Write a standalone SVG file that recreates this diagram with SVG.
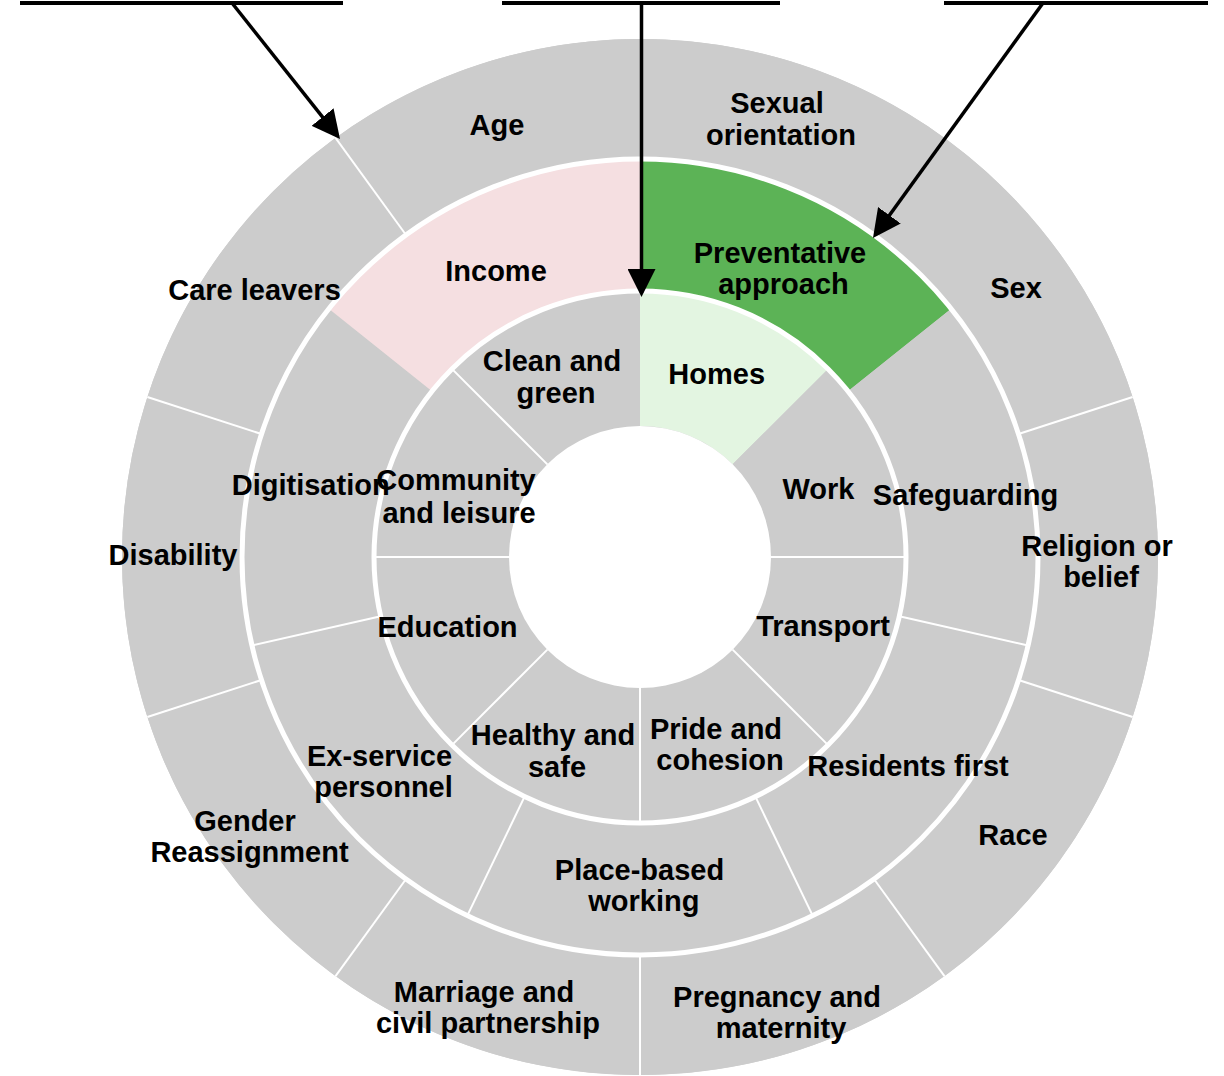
<svg xmlns="http://www.w3.org/2000/svg" width="1224" height="1076" viewBox="0 0 1224 1076">
  <style>
    .gray { fill: #cccccc; }
    .pink { fill: #f5dfe1; }
    .green { fill: #5cb356; }
    .lgreen { fill: #e3f5e1; }
    .div { stroke: #ffffff; stroke-width: 2; fill: none; }
    .gap { stroke: #ffffff; stroke-width: 5; fill: none; }
    .bar { stroke: #000000; stroke-width: 4; fill: none; }
    .arrow { stroke: #000000; stroke-width: 3.5; fill: none; marker-end: url(#head); }
    .lbl { font-family: "Liberation Sans", Arial, Helvetica, sans-serif; font-weight: bold; font-size: 29px; fill: #000000; text-anchor: middle; }
  </style>
  <defs>
    <marker id="head" viewBox="0 0 28 28" refX="24" refY="14" markerWidth="28" markerHeight="28" markerUnits="userSpaceOnUse" orient="auto">
      <path d="M0,0 L28,14 L0,28 Z" fill="#000000"/>
    </marker>
  </defs>
  <rect width="1224" height="1076" fill="#ffffff"/>

  <g id="segments">
    <circle cx="640" cy="557" r="518" class="gray"/>
    <!-- outer ring -->
    <path id="seg-sexual-orientation" class="gray" d="M640,39 A518,518 0 0 1 944.48,137.93 L873.94,235.01 A398,398 0 0 0 640,159 Z"/>
    <path id="seg-sex" class="gray" d="M944.48,137.93 A518,518 0 0 1 1132.65,396.93 L1018.52,434.01 A398,398 0 0 0 873.94,235.01 Z"/>
    <path id="seg-religion" class="gray" d="M1132.65,396.93 A518,518 0 0 1 1132.65,717.07 L1018.52,679.99 A398,398 0 0 0 1018.52,434.01 Z"/>
    <path id="seg-race" class="gray" d="M1132.65,717.07 A518,518 0 0 1 944.48,976.07 L873.94,878.99 A398,398 0 0 0 1018.52,679.99 Z"/>
    <path id="seg-pregnancy" class="gray" d="M944.48,976.07 A518,518 0 0 1 640,1075 L640,955 A398,398 0 0 0 873.94,878.99 Z"/>
    <path id="seg-marriage" class="gray" d="M640,1075 A518,518 0 0 1 335.52,976.07 L406.06,878.99 A398,398 0 0 0 640,955 Z"/>
    <path id="seg-gender" class="gray" d="M335.52,976.07 A518,518 0 0 1 147.35,717.07 L261.48,679.99 A398,398 0 0 0 406.06,878.99 Z"/>
    <path id="seg-disability" class="gray" d="M147.35,717.07 A518,518 0 0 1 147.35,396.93 L261.48,434.01 A398,398 0 0 0 261.48,679.99 Z"/>
    <path id="seg-care-leavers" class="gray" d="M147.35,396.93 A518,518 0 0 1 335.52,137.93 L406.06,235.01 A398,398 0 0 0 261.48,434.01 Z"/>
    <path id="seg-age" class="gray" d="M335.52,137.93 A518,518 0 0 1 640,39 L640,159 A398,398 0 0 0 406.06,235.01 Z"/>
    <!-- middle ring -->
    <path id="seg-preventative" class="green" d="M640,159 A398,398 0 0 1 951.17,308.85 L847.97,391.15 A266,266 0 0 0 640,291 Z"/>
    <path id="seg-safeguarding" class="gray" d="M951.17,308.85 A398,398 0 0 1 1028.02,645.56 L899.33,616.19 A266,266 0 0 0 847.97,391.15 Z"/>
    <path id="seg-residents" class="gray" d="M1028.02,645.56 A398,398 0 0 1 812.68,915.59 L755.41,796.66 A266,266 0 0 0 899.33,616.19 Z"/>
    <path id="seg-place" class="gray" d="M812.68,915.59 A398,398 0 0 1 467.32,915.59 L524.59,796.66 A266,266 0 0 0 755.41,796.66 Z"/>
    <path id="seg-exservice" class="gray" d="M467.32,915.59 A398,398 0 0 1 251.98,645.56 L380.67,616.19 A266,266 0 0 0 524.59,796.66 Z"/>
    <path id="seg-digitisation" class="gray" d="M251.98,645.56 A398,398 0 0 1 328.83,308.85 L432.03,391.15 A266,266 0 0 0 380.67,616.19 Z"/>
    <path id="seg-income" class="pink" d="M328.83,308.85 A398,398 0 0 1 640,159 L640,291 A266,266 0 0 0 432.03,391.15 Z"/>
    <!-- inner ring -->
    <path id="seg-homes" class="lgreen" d="M640,291 A266,266 0 0 1 828.09,368.91 L732.63,464.37 A131,131 0 0 0 640,426 Z"/>
    <path id="seg-work" class="gray" d="M828.09,368.91 A266,266 0 0 1 906,557 L771,557 A131,131 0 0 0 732.63,464.37 Z"/>
    <path id="seg-transport" class="gray" d="M906,557 A266,266 0 0 1 828.09,745.09 L732.63,649.63 A131,131 0 0 0 771,557 Z"/>
    <path id="seg-pride" class="gray" d="M828.09,745.09 A266,266 0 0 1 640,823 L640,688 A131,131 0 0 0 732.63,649.63 Z"/>
    <path id="seg-healthy" class="gray" d="M640,823 A266,266 0 0 1 451.91,745.09 L547.37,649.63 A131,131 0 0 0 640,688 Z"/>
    <path id="seg-education" class="gray" d="M451.91,745.09 A266,266 0 0 1 374,557 L509,557 A131,131 0 0 0 547.37,649.63 Z"/>
    <path id="seg-community" class="gray" d="M374,557 A266,266 0 0 1 451.91,368.91 L547.37,464.37 A131,131 0 0 0 509,557 Z"/>
    <path id="seg-clean" class="gray" d="M451.91,368.91 A266,266 0 0 1 640,291 L640,426 A131,131 0 0 0 547.37,464.37 Z"/>
  </g>

  <g id="separators">
    <!-- inner ring dividers -->
    <line class="div" x1="771" y1="557" x2="906" y2="557"/>
    <line class="div" x1="732.63" y1="649.63" x2="828.09" y2="745.09"/>
    <line class="div" x1="640" y1="688" x2="640" y2="823"/>
    <line class="div" x1="547.37" y1="649.63" x2="451.91" y2="745.09"/>
    <line class="div" x1="509" y1="557" x2="374" y2="557"/>
    <line class="div" x1="547.37" y1="464.37" x2="451.91" y2="368.91"/>
    <!-- middle ring dividers -->
    <line class="div" x1="899.33" y1="616.19" x2="1028.02" y2="645.56"/>
    <line class="div" x1="755.41" y1="796.66" x2="812.68" y2="915.59"/>
    <line class="div" x1="524.59" y1="796.66" x2="467.32" y2="915.59"/>
    <line class="div" x1="380.67" y1="616.19" x2="251.98" y2="645.56"/>
    <!-- outer ring dividers -->
    <line class="div" x1="1018.52" y1="434.01" x2="1132.65" y2="396.93"/>
    <line class="div" x1="1018.52" y1="679.99" x2="1132.65" y2="717.07"/>
    <line class="div" x1="873.94" y1="878.99" x2="944.48" y2="976.07"/>
    <line class="div" x1="640" y1="955" x2="640" y2="1075"/>
    <line class="div" x1="406.06" y1="878.99" x2="335.52" y2="976.07"/>
    <line class="div" x1="261.48" y1="679.99" x2="147.35" y2="717.07"/>
    <line class="div" x1="261.48" y1="434.01" x2="147.35" y2="396.93"/>
    <line class="div" x1="406.06" y1="235.01" x2="335.52" y2="137.93"/>
    <!-- ring gaps and hole -->
    <circle class="gap" cx="640" cy="557" r="266"/>
    <circle class="gap" cx="640" cy="557" r="398"/>
    <circle cx="640" cy="557" r="131" fill="#ffffff"/>
  </g>

  <g id="connectors">
    <line class="bar" x1="20" y1="3" x2="343" y2="3"/>
    <line class="bar" x1="502" y1="3" x2="780" y2="3"/>
    <line class="bar" x1="944" y1="3" x2="1208" y2="3"/>
    <line class="arrow" x1="232" y1="3" x2="337.51" y2="135.87"/>
    <line class="arrow" x1="641.5" y1="3" x2="641.5" y2="293"/>
    <line class="arrow" x1="1043" y1="3" x2="875.34" y2="234.76"/>
  </g>

  <g id="labels">
    <g id="node-age"><text class="lbl" x="497" y="135">Age</text></g>
    <g id="node-sexual-orientation"><text class="lbl"><tspan x="777" y="113">Sexual</tspan><tspan x="781" y="145">orientation</tspan></text></g>
    <g id="node-sex"><text class="lbl" x="1016" y="298">Sex</text></g>
    <g id="node-religion"><text class="lbl"><tspan x="1097" y="556">Religion or</tspan><tspan x="1101" y="587">belief</tspan></text></g>
    <g id="node-race"><text class="lbl" x="1013" y="845">Race</text></g>
    <g id="node-pregnancy"><text class="lbl"><tspan x="777" y="1007">Pregnancy and</tspan><tspan x="781" y="1038">maternity</tspan></text></g>
    <g id="node-marriage"><text class="lbl"><tspan x="484" y="1002">Marriage and</tspan><tspan x="488" y="1033">civil partnership</tspan></text></g>
    <g id="node-gender"><text class="lbl"><tspan x="245" y="831">Gender</tspan><tspan x="249.5" y="862">Reassignment</tspan></text></g>
    <g id="node-disability"><text class="lbl" x="173" y="565">Disability</text></g>
    <g id="node-care-leavers"><text class="lbl" x="254.5" y="300">Care leavers</text></g>

    <g id="node-income"><text class="lbl" x="496" y="281">Income</text></g>
    <g id="node-preventative"><text class="lbl"><tspan x="780" y="263">Preventative</tspan><tspan x="783.5" y="294">approach</tspan></text></g>
    <g id="node-safeguarding"><text class="lbl" x="965.5" y="505">Safeguarding</text></g>
    <g id="node-residents"><text class="lbl" x="908" y="776">Residents first</text></g>
    <g id="node-place"><text class="lbl"><tspan x="639.5" y="880">Place-based</tspan><tspan x="643.8" y="911">working</tspan></text></g>
    <g id="node-exservice"><text class="lbl"><tspan x="379.5" y="766">Ex-service</tspan><tspan x="383.5" y="797">personnel</tspan></text></g>
    <g id="node-digitisation"><text class="lbl" x="310.7" y="495">Digitisation</text></g>

    <g id="node-homes"><text class="lbl" x="716.7" y="384">Homes</text></g>
    <g id="node-work"><text class="lbl" x="818.5" y="499">Work</text></g>
    <g id="node-transport"><text class="lbl" x="823" y="636">Transport</text></g>
    <g id="node-pride"><text class="lbl"><tspan x="716" y="739">Pride and</tspan><tspan x="720" y="770">cohesion</tspan></text></g>
    <g id="node-healthy"><text class="lbl"><tspan x="553" y="745">Healthy and</tspan><tspan x="557" y="776.5">safe</tspan></text></g>
    <g id="node-education"><text class="lbl" x="447.5" y="637">Education</text></g>
    <g id="node-community"><text class="lbl"><tspan x="456" y="490">Community</tspan><tspan x="459" y="523">and leisure</tspan></text></g>
    <g id="node-clean"><text class="lbl"><tspan x="552" y="371">Clean and</tspan><tspan x="556" y="402.5">green</tspan></text></g>
  </g>
</svg>
